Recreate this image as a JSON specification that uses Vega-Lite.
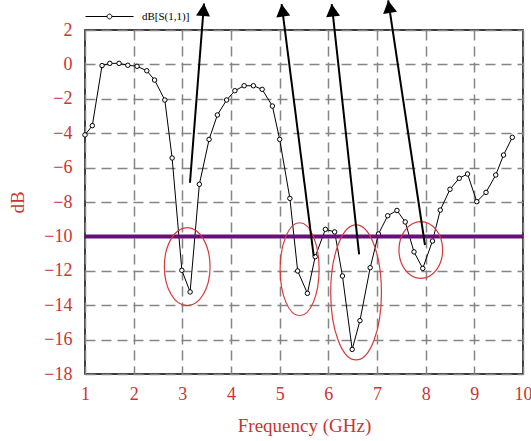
{
  "$schema": "https://vega.github.io/schema/vega-lite/v6.json",
  "autosize": {"type": "none"},
  "width": 438,
  "height": 344,
  "padding": {"left": 85, "top": 30, "right": 8, "bottom": 67},
  "background": "white",
  "config": {
    "view": {"stroke": "black", "strokeWidth": 1.5},
    "axis": {
      "labelFont": "Liberation Serif",
      "labelFontSize": 18,
      "labelColor": "#cc3333",
      "labelOverlap": false,
      "titleFont": "Liberation Serif",
      "titleFontSize": 19,
      "titleFontWeight": "normal",
      "titleColor": "#cc3333",
      "grid": true,
      "gridColor": "#858585",
      "gridWidth": 1.5,
      "gridDash": [10, 6],
      "ticks": false,
      "domain": false
    },
    "legend": {
      "orient": "none",
      "legendX": 0,
      "legendY": -38,
      "padding": 0,
      "title": null,
      "labelFont": "Liberation Serif",
      "labelFontSize": 11,
      "labelColor": "black",
      "labelOffset": 8
    }
  },
  "encoding": {
    "x": {"type": "quantitative", "scale": {"domain": [1, 10]},
          "axis": {"tickCount": 9, "title": "Frequency (GHz)", "labelPadding": 11, "titlePadding": 13, "labelOverlap": false, "labelBound": false, "labelFlush": false}},
    "y": {"type": "quantitative", "scale": {"domain": [-18, 2]},
          "axis": {"tickCount": 10, "title": "dB", "labelPadding": 13, "titlePadding": 16, "labelOverlap": false, "labelFlush": false}}
  },
  "layer": [
    {
      "data": {"name": "s11", "values": [
        {"f": 1.00, "db": -4.10}, {"f": 1.15, "db": -3.56}, {"f": 1.35, "db": -0.07},
        {"f": 1.51, "db": 0.06}, {"f": 1.70, "db": 0.06}, {"f": 1.88, "db": -0.05},
        {"f": 2.07, "db": -0.11}, {"f": 2.27, "db": -0.37}, {"f": 2.43, "db": -0.91},
        {"f": 2.64, "db": -2.07}, {"f": 2.79, "db": -5.44}, {"f": 2.99, "db": -11.97},
        {"f": 3.16, "db": -13.23}, {"f": 3.35, "db": -6.97}, {"f": 3.55, "db": -4.36},
        {"f": 3.72, "db": -2.94}, {"f": 3.91, "db": -2.07}, {"f": 4.08, "db": -1.53},
        {"f": 4.27, "db": -1.24}, {"f": 4.46, "db": -1.24}, {"f": 4.64, "db": -1.45},
        {"f": 4.85, "db": -2.42}, {"f": 5.00, "db": -4.36}, {"f": 5.21, "db": -7.79},
        {"f": 5.37, "db": -12.01}, {"f": 5.57, "db": -13.31}, {"f": 5.73, "db": -11.18},
        {"f": 5.94, "db": -9.59}, {"f": 6.13, "db": -9.74}, {"f": 6.29, "db": -12.30},
        {"f": 6.49, "db": -16.57}, {"f": 6.65, "db": -14.90}, {"f": 6.86, "db": -11.82},
        {"f": 7.03, "db": -9.86}, {"f": 7.22, "db": -8.80}, {"f": 7.41, "db": -8.49},
        {"f": 7.58, "db": -9.16}, {"f": 7.76, "db": -10.90}, {"f": 7.94, "db": -11.86},
        {"f": 8.14, "db": -10.27}, {"f": 8.30, "db": -8.47}, {"f": 8.50, "db": -7.26},
        {"f": 8.69, "db": -6.62}, {"f": 8.86, "db": -6.37}, {"f": 9.05, "db": -7.98},
        {"f": 9.24, "db": -7.44}, {"f": 9.44, "db": -6.43}, {"f": 9.60, "db": -5.27},
        {"f": 9.78, "db": -4.24}
      ]},
      "layer": [
        {
          "mark": {"type": "line", "strokeWidth": 1},
          "encoding": {
            "x": {"field": "f", "type": "quantitative"},
            "y": {"field": "db", "type": "quantitative"},
            "color": {"datum": "dB[S(1,1)]", "type": "nominal",
                      "scale": {"range": ["black"]},
                      "legend": {
                        "symbolType": "M-1,0L-0.1,0M0.1,0L1,0M0.1,0A0.1,0.1 0 1,1 -0.1,0A0.1,0.1 0 1,1 0.1,0",
                        "symbolSize": 2304,
                        "symbolStrokeWidth": 1,
                        "symbolStrokeColor": "black",
                        "symbolFillColor": "white"
                      }}
          }
        },
        {
          "mark": {"type": "point", "shape": "circle", "filled": true, "fill": "white", "stroke": "black", "strokeWidth": 1, "size": 20, "opacity": 1},
          "encoding": {
            "x": {"field": "f", "type": "quantitative"},
            "y": {"field": "db", "type": "quantitative"}
          }
        }
      ]
    },
    {
      "data": {"values": [{"threshold": -10}]},
      "mark": {"type": "rule", "color": "#661177", "strokeWidth": 4},
      "encoding": {
        "x": null,
        "y": {"field": "threshold", "type": "quantitative"}
      }
    },
    {
      "data": {"values": [
        {"id": 1, "cx": 3.10, "cy": -11.76},
        {"id": 2, "cx": 5.41, "cy": -11.91},
        {"id": 3, "cx": 6.57, "cy": -13.26},
        {"id": 4, "cx": 7.90, "cy": -10.79}
      ]},
      "mark": {"type": "point", "filled": false, "stroke": "#d83a3a", "strokeWidth": 1.2, "opacity": 1},
      "encoding": {
        "x": {"field": "cx", "type": "quantitative"},
        "y": {"field": "cy", "type": "quantitative"},
        "shape": {
          "condition": [
            {"test": "datum.id === 1", "value": "M0.586,0C0.586,0.552 0.324,1 0,1C-0.324,1 -0.586,0.552 -0.586,0C-0.586,-0.552 -0.324,-1 0,-1C0.324,-1 0.586,-0.552 0.586,0Z"},
            {"test": "datum.id === 2", "value": "M0.419,0C0.419,0.552 0.231,1 0,1C-0.231,1 -0.419,0.552 -0.419,0C-0.419,-0.552 -0.231,-1 0,-1C0.231,-1 0.419,-0.552 0.419,0Z"},
            {"test": "datum.id === 3", "value": "M0.376,0C0.376,0.552 0.208,1 0,1C-0.208,1 -0.376,0.552 -0.376,0C-0.376,-0.552 -0.208,-1 0,-1C0.208,-1 0.376,-0.552 0.376,0Z"}
          ],
          "value": "M0.771,0C0.771,0.552 0.426,1 0,1C-0.426,1 -0.771,0.552 -0.771,0C-0.771,-0.552 -0.426,-1 0,-1C0.426,-1 0.771,-0.552 0.771,0Z"
        },
        "size": {
          "condition": [
            {"test": "datum.id === 1", "value": 6084},
            {"test": "datum.id === 2", "value": 8649},
            {"test": "datum.id === 3", "value": 18225}
          ],
          "value": 3215
        }
      }
    },
    {
      "data": {"values": [
        {"id": 1, "tx": 3.157, "ty": -6.88, "hx": 3.445, "hy": 3.54},
        {"id": 2, "tx": 5.70, "ty": -11.14, "hx": 5.04, "hy": 3.51},
        {"id": 3, "tx": 6.633, "ty": -11.04, "hx": 6.07, "hy": 3.51},
        {"id": 4, "tx": 7.986, "ty": -10.50, "hx": 7.23, "hy": 3.72}
      ]},
      "layer": [
        {
          "mark": {"type": "rule", "color": "black", "strokeWidth": 2},
          "encoding": {
            "x": {"field": "tx", "type": "quantitative"},
            "y": {"field": "ty", "type": "quantitative"},
            "x2": {"field": "hx"},
            "y2": {"field": "hy"}
          }
        },
        {
          "mark": {"type": "point", "filled": true, "color": "black", "opacity": 1, "shape": "M0,0L0.5,0.9L-0.5,0.9Z", "size": 784},
          "encoding": {
            "x": {"field": "hx", "type": "quantitative"},
            "y": {"field": "hy", "type": "quantitative"},
            "angle": {
              "condition": [
                {"test": "datum.id === 1", "value": 4.5},
                {"test": "datum.id === 2", "value": -7.4},
                {"test": "datum.id === 3", "value": -6.2}
              ],
              "value": -8.5
            }
          }
        }
      ]
    }
  ]
}
